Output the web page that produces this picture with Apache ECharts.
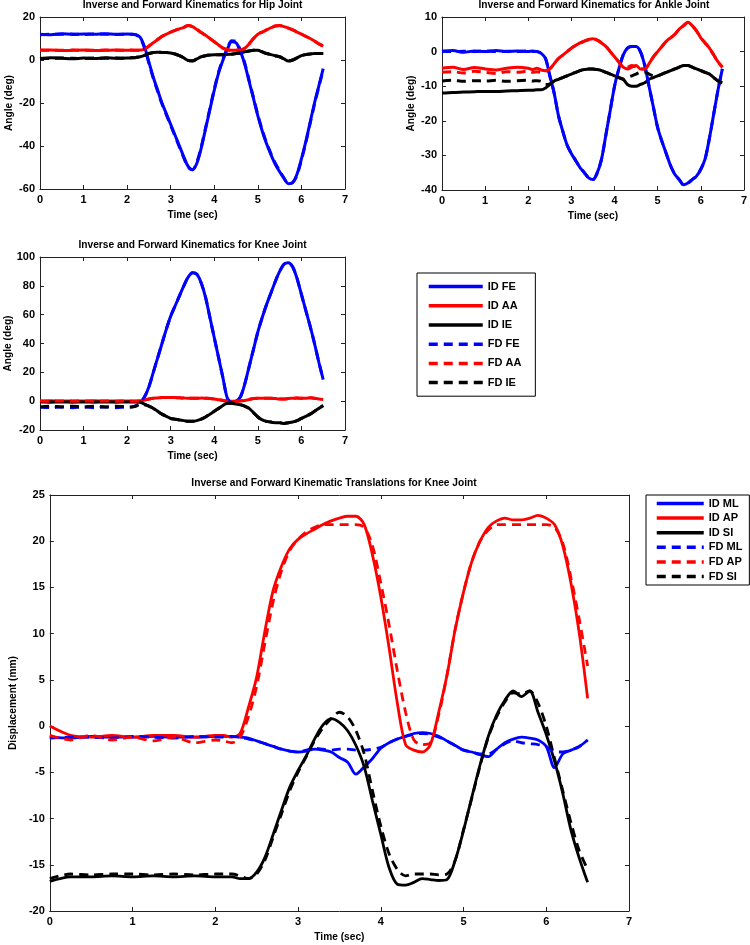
<!DOCTYPE html>
<html><head><meta charset="utf-8">
<script src="https://cdn.jsdelivr.net/npm/echarts@6/dist/echarts.min.js"></script>
<style>html,body{margin:0;padding:0;background:#fff}#c{width:750px;height:945px}</style>
</head><body><div id="c"></div>
<script>
// ---- time samples (sec) ----
const time = [0,0.25,0.5,0.75,1,1.25,1.5,1.75,2,
 2.1,2.2,2.3,2.4,2.5,2.6,2.7,2.8,2.9,3,
 3.1,3.2,3.3,3.4,3.5,3.6,3.7,3.8,3.9,4,
 4.1,4.2,4.3,4.4,4.5,4.6,4.7,4.8,4.9,5,
 5.1,5.2,5.3,5.4,5.5,5.6,5.7,5.8,5.9,6,
 6.1,6.2,6.3,6.4,6.5];

// ---- Hip joint (deg) ----
const hipIdFE = [12,11.8,12.2,11.9,12.1,12,12.2,11.9,12.1,
 12,11.8,10.5,6,-1,-8,-14,-20,-25,-30,
 -35,-40,-45,-49.5,-51,-48,-41,-32,-23,-14,
 -6,0,5,8.5,8,4,-2,-10,-18,-26,
 -33,-39,-44,-48.5,-52,-55,-57.5,-57,-53,-46,
 -38,-29,-20,-12,-4];
const hipIdAA = [4.5,4.6,4.4,4.5,4.6,4.4,4.5,4.6,4.5,
 4.5,4.5,4.6,5,6.5,8,9.5,11,12,13,
 13.8,14.5,15.2,16,15.5,14.2,12.8,11.5,10,8.5,
 7,5.5,4.8,4.5,4.5,4.6,5.5,7.5,10,12,
 13,14,15,15.8,16,15.5,14.8,14,13,12,
 11,10,8.8,7.5,6.5];
const hipIdIE = [0.5,1,0.8,0.6,0.9,0.7,1,0.8,0.9,
 1,1.2,1.5,2.2,3,3.5,3.6,3.5,3.5,3.3,
 2.8,2,1,-0.2,-0.5,0.5,1.5,2,2.3,2.5,
 2.5,2.5,2.6,2.7,3,3.3,3.8,4.2,4.5,4.5,
 3.8,3,2.5,2,1.5,0.5,-0.5,0,1,2,
 2.5,2.8,3,3,3];
const hipFdFE = [11.8,12,12,12.1,11.9,12.1,12,12,12,
 12,11.7,10.2,5.5,-1.5,-8.5,-14.5,-20.5,-25.5,-30.5,
 -35.5,-40.5,-45.5,-50,-51,-47.5,-40.5,-31.5,-22.5,-13.5,
 -5.5,0.5,5.5,9,8.5,4.5,-1.5,-9.5,-17.5,-25.5,
 -32.5,-38.5,-43.5,-48,-51.5,-55,-57.5,-57,-53.5,-46.5,
 -38.5,-29.5,-20.5,-12.5,-4.5];
const hipFdAA = [4.6,4.5,4.5,4.6,4.5,4.5,4.6,4.5,4.6,
 4.6,4.5,4.6,5,6.5,8,9.5,11,12,13,
 13.8,14.5,15.2,16,15.5,14.2,12.8,11.5,10,8.5,
 7,5.5,4.8,4.6,4.6,4.7,5.5,7.5,10,12,
 13,14,15,15.8,16,15.5,14.8,14,13,12,
 11,10,8.8,7.5,6.5];
const hipFdIE = [0.8,0.7,0.9,0.8,0.7,0.9,0.8,0.9,0.8,
 1,1.2,1.5,2.2,3,3.5,3.6,3.5,3.5,3.3,
 2.8,2,1,-0.2,-0.4,0.5,1.5,2,2.3,2.5,
 2.5,2.5,2.6,2.7,3,3.3,3.8,4.2,4.5,4.5,
 3.8,3,2.5,2,1.5,0.5,-0.4,0,1,2,
 2.5,2.8,3,3,3];

// ---- Ankle joint (deg) ----
const ankIdFE = [0,0.3,-0.2,0.2,0,0.3,0,0.2,0,
 0.2,0,-0.5,-2,-7,-12,-18.5,-23,-27,-29.5,
 -31.5,-33.5,-35,-36.5,-37,-35,-31,-24,-17,-10,
 -5,-1,1,1.5,1.5,0,-4,-10,-16,-22,
 -26,-29.5,-33,-35.5,-37,-38.5,-38,-37,-36,-34,
 -31,-25,-18,-11,-5];
const ankIdAA = [-4.8,-4.5,-5.2,-4.6,-5,-5.3,-4.8,-4.5,-4.8,
 -5.2,-4.8,-5.3,-5.5,-5,-3.5,-2,-1,0,1,
 1.8,2.5,3,3.5,3.7,3.3,2.5,1.5,0,-1.5,
 -3,-4.5,-5,-4.5,-4,-5,-5,-3.5,-1.5,0,
 1.5,3,4,5,6.5,7.5,8.5,7.5,6,4,
 2.5,1,-1,-3,-4.5];
const ankIdIE = [-12,-11.8,-11.7,-11.6,-11.5,-11.5,-11.4,-11.3,-11.2,
 -11.2,-11,-11,-10.5,-9.5,-8.5,-8,-7.5,-7,-6.5,
 -6,-5.5,-5.2,-5,-5,-5.2,-5.5,-6,-6.5,-7,
 -7.5,-8,-9.5,-10,-10,-9.5,-9,-8,-7.5,-7,
 -6.5,-6,-5.5,-5,-4.5,-4,-4,-4.5,-5,-5.5,
 -6,-6.5,-7.5,-8.5,-9];
const ankFdFE = [0.2,0,0.1,0,0.2,0,0.1,0,0.2,
 0,0,-0.5,-2,-7,-12,-18.5,-23,-27,-29.5,
 -31.5,-33.5,-35,-36.5,-37,-35,-31,-24,-17,-10,
 -5,-1,1,1.5,1.5,0,-4,-10,-16,-22,
 -26,-29.5,-33,-35.5,-37,-38.5,-38,-37,-36,-34,
 -31,-25,-18,-11,-5];
const ankFdAA = [-6,-5.8,-6.2,-5.7,-6,-6.3,-5.8,-6,-5.6,
 -6,-5.8,-6,-5.8,-5,-3.5,-2,-1,0,1,
 1.8,2.5,3,3.5,3.7,3.3,2.5,1.5,0,-1.5,
 -3,-4.5,-4.5,-4,-4.5,-5,-5,-3.5,-1.5,0,
 1.5,3,4,5,6.5,7.5,8.5,7.5,6,4,
 2.5,1,-1,-3,-4.5];
const ankFdIE = [-8.5,-8.3,-8.6,-8.4,-8.5,-8.3,-8.6,-8.4,-8.3,
 -8.5,-8.4,-8.6,-9.5,-9.3,-8.5,-8,-7.5,-7,-6.5,
 -6,-5.5,-5.2,-5,-5,-5.2,-5.5,-6,-6.5,-7,
 -7.5,-8,-7.5,-7,-6.5,-6,-6,-6.5,-7,-7,
 -6.5,-6,-5.5,-5,-4.5,-4,-4,-4.5,-5,-5.5,
 -6,-6.5,-7.5,-8.5,-9];

// ---- Knee joint (deg) ----
const kneeIdFE = [0,-0.5,0,-0.5,0,-0.5,0,-0.5,0,
 0,0,-0.5,3,10,20,30,40,50,59,
 66,73,80,86,89,88,82,72,58,44,
 30,16,2,-1,0,3,12,24,36,48,
 58,67,75,83,90,95,96,93,85,74,
 63,52,40,27,15];
const kneeIdAA = [0,0.3,0,0.2,0,0.3,0,0.2,0,
 0,0,0.3,0.8,1.5,2,2.2,2.5,2.5,2.6,
 2.5,2.3,2.2,2,2,2,2.2,2,1.8,1.5,
 1,0.5,0,0,0,0.2,0.5,1.2,1.8,2,
 2,2,2,1.8,1.5,1.5,1.8,2,2.2,2,
 2,2.3,2,1.5,1.2];
const kneeIdIE = [-0.5,-0.5,-0.5,-0.5,-0.5,-0.5,-0.5,-0.5,-0.5,
 -0.5,-0.5,-0.8,-2,-3.5,-5,-7,-9,-10.5,-12,
 -12.5,-13,-13.5,-14,-14,-13.5,-12.5,-11,-9,-7,
 -5,-3,-1.5,-1.5,-2,-2.5,-3.5,-5,-8,-11,
 -13,-14,-14.5,-15,-15,-15.5,-15,-14.5,-13.5,-12,
 -10.5,-9,-7,-5,-3];
const kneeFdFE = [-4,-4.5,-4,-4.5,-4,-4.5,-4,-4.5,-4,
 -4,-3,-1,3,10,20,30,40,50,59,
 66,73,80,86,89,88,82,72,58,44,
 30,16,2,-1,0,3,12,24,36,48,
 58,67,75,83,90,95,96,93,85,74,
 63,52,40,27,15];
const kneeFdAA = [0.2,0,0.2,0,0.2,0,0.2,0,0.2,
 0,0,0.3,0.8,1.5,2,2.2,2.5,2.5,2.6,
 2.5,2.3,2.2,2,2,2,2.2,2,1.8,1.5,
 1,0.5,0,0,0,0.2,0.5,1.2,1.8,2,
 2,2,2,1.8,1.5,1.5,1.8,2,2.2,2,
 2,2.3,2,1.5,1.2];
const kneeFdIE = [-4,-3.5,-4,-3.5,-4,-3.5,-4,-3.5,-4,
 -4,-3.5,-2,-2.5,-3.5,-5,-7,-9,-10.5,-12,
 -12.5,-13,-13.5,-14,-14,-13.5,-12.5,-11,-9,-7,
 -5,-3,-1.5,-1.5,-2,-2.5,-3.5,-5,-8,-11,
 -13,-14,-14.5,-15,-15,-15.5,-15,-14.5,-13.5,-12,
 -10.5,-9,-7,-5,-3];

// ---- Knee translations (mm) ----
const trIdML = [-1.2,-1.3,-1.1,-1.2,-1.2,-1.1,-1.2,-1.2,-1.1,
 -1.1,-1.1,-1.2,-1.3,-1.6,-1.9,-2.2,-2.5,-2.7,-2.8,
 -2.7,-2.5,-2.6,-2.8,-3.4,-3.9,-5.2,-4.4,-3.5,-2.4,
 -1.8,-1.4,-1.1,-0.8,-0.7,-0.8,-1.1,-1.6,-2.1,-2.6,
 -2.8,-3.1,-3.3,-2.5,-1.8,-1.4,-1.2,-1.3,-1.5,-2.2,
 -4.5,-3,-2.6,-2.2,-1.5];
const trIdAP = [0,-1,-1.2,-1,-1.2,-1,-1,-1.2,-1,
 -1,-1.2,-0.8,2,5.3,10.3,14.7,17.3,19.2,20.2,
 20.8,21.3,21.8,22.2,22.5,22.7,22.7,21.8,18.5,14,
 8.5,2.5,-2,-2.6,-2.8,-2,1.5,5.5,10.5,14.5,
 17.8,20,21.5,22.2,22.5,22.3,22.3,22.5,22.8,22.5,
 21.8,19.5,15.4,10,3];
const trIdSI = [-16.8,-16.3,-16.3,-16.2,-16.3,-16.2,-16.3,-16.2,-16.3,
 -16.3,-16.3,-16.5,-16.5,-15.8,-14.2,-11.7,-9.1,-6.6,-4.8,
 -3.2,-1.4,0.1,0.8,0.4,-0.5,-2.1,-4.4,-8.1,-11.7,
 -15.3,-17.1,-17.2,-16.9,-16.5,-16.6,-16.7,-16.6,-14.5,-11.3,
 -7.7,-4.2,-1.1,1.2,2.8,3.8,3.2,3.8,1.5,-0.9,
 -3.8,-7.3,-11.3,-14.3,-16.9];
const trFdML = [-1.3,-1.2,-1.2,-1.3,-1.1,-1.2,-1.3,-1.1,-1.2,
 -1.2,-1.1,-1.2,-1.4,-1.6,-1.9,-2.2,-2.5,-2.7,-2.8,
 -2.6,-2.4,-2.5,-2.6,-2.5,-2.5,-2.6,-2.6,-2.5,-2.3,
 -1.8,-1.4,-1.1,-0.9,-0.8,-0.9,-1.2,-1.6,-2.1,-2.6,
 -2.8,-3,-3,-2.5,-1.9,-1.6,-1.8,-1.9,-2,-2.2,
 -2.8,-2.8,-2.6,-2.2,-1.5];
const trFdAP = [-1,-1.5,-1,-1.5,-1.2,-1.6,-1.2,-1.8,-1.5,
 -1.6,-1.8,-1.2,1,4.3,9,13.5,16.8,19,20.2,
 21,21.5,21.8,21.8,21.8,21.8,21.8,21.5,19.5,15.5,
 11,6,1.5,-1.5,-2,-1.8,1.2,5.5,10.5,14.5,
 17.8,20,21.2,21.8,21.8,21.8,21.8,21.8,21.8,21.8,
 21.5,19.8,16,11.5,6.5];
const trFdSI = [-16.5,-16,-16.1,-16,-16,-16.1,-16,-16.1,-16,
 -16,-16,-16.2,-16.5,-16,-14.5,-12,-9.5,-7,-5,
 -3.3,-1.6,-0.2,0.8,1.5,1,-0.5,-3,-7,-10.8,
 -13.8,-15.5,-16.2,-16,-16,-16,-16.1,-16,-14.5,-11.2,
 -7.8,-4.3,-1.2,1,2.6,3.6,3.5,3.8,2.5,0,
 -3.5,-7,-10.5,-13.5,-15.5];

// ---- labels ----
const titles = ['Inverse and Forward Kinematics for Hip Joint','Inverse and Forward Kinematics for Ankle Joint','Inverse and Forward Kinematics for Knee Joint','Inverse and Forward Kinematic Translations for Knee Joint'];
const yNames = ['Angle (deg)','Angle (deg)','Angle (deg)','Displacement (mm)'];
const xName = 'Time (sec)';
const angleLegend = ['ID FE','ID AA','ID IE','FD FE','FD AA','FD IE'];
const transLegend = ['ID ML','ID AP','ID SI','FD ML','FD AP','FD SI'];
const yRanges = [[-60,20,20],[-40,10,10],[-20,100,20],[-20,25,5]];
const xRange = [0,7,1];

const FONT = '"Liberation Sans", Arial, Helvetica, sans-serif';
const grids = [
  {left:40, top:17, width:305, height:172},
  {left:442, top:17, width:304, height:173},
  {left:40, top:257, width:305, height:173},
  {left:39, top:495, width:590, height:416}
];
const AX = '#222';
const xAxis = [], yAxis = [];
grids.forEach((g, i) => {
  const base = {type:'value', gridIndex:i, splitLine:{show:false},
    axisLine:{onZero:false, lineStyle:{color:AX, width:1}},
    axisTick:{inside:true, length:4, lineStyle:{color:AX}}};
  xAxis.push(Object.assign({}, base, {min:xRange[0], max:xRange[1], interval:xRange[2], position:'bottom',
    axisLabel:{color:'#000', fontSize:11, fontWeight:'bold', fontFamily:FONT, margin:5},
    name:xName, nameLocation:'middle', nameGap:21,
    nameTextStyle:{color:'#000', fontSize:10.2, fontWeight:'bold', fontFamily:FONT}}));
  xAxis.push(Object.assign({}, base, {min:xRange[0], max:xRange[1], interval:xRange[2], position:'top', axisLabel:{show:false}}));
  const r = yRanges[i];
  yAxis.push(Object.assign({}, base, {min:r[0], max:r[1], interval:r[2], position:'left',
    axisLabel:{color:'#000', fontSize:11, fontWeight:'bold', fontFamily:FONT, margin:5},
    name:yNames[i], nameLocation:'middle', nameGap: i===3 ? 27 : 26, nameRotate:90,
    nameTextStyle:{color:'#000', fontSize:10.2, fontWeight:'bold', fontFamily:FONT}}));
  yAxis.push(Object.assign({}, base, {min:r[0], max:r[1], interval:r[2], position:'right', axisLabel:{show:false}}));
});

const BLUE = '#0000ff', RED = '#ff0000', BLACK = '#000000';
function mk(name, vals, color, dashed, gi, width) {
  return {type:'line', name, xAxisIndex:2*gi, yAxisIndex:2*gi,
    data: time.map((t, k) => [t, vals[k]]),
    symbol:'none', showSymbol:false, smooth:0.3, animation:false,
    lineStyle:{color, width, type: dashed ? [9,6] : 'solid'},
    itemStyle:{color}};
}
const angleSets = [
  [hipIdFE,hipIdAA,hipIdIE,hipFdFE,hipFdAA,hipFdIE],
  [ankIdFE,ankIdAA,ankIdIE,ankFdFE,ankFdAA,ankFdIE],
  [kneeIdFE,kneeIdAA,kneeIdIE,kneeFdFE,kneeFdAA,kneeFdIE]
];
const colors = [BLUE, RED, BLACK, BLUE, RED, BLACK];
const series = [];
angleSets.forEach((set, gi) => {
  set.forEach((vals, j) => series.push(mk(angleLegend[j], vals, colors[j], j >= 3, gi, 3)));
});
[trIdML,trIdAP,trIdSI,trFdML,trFdAP,trFdSI].forEach((vals, j) =>
  series.push(mk(transLegend[j], vals, colors[j], j >= 3, 3, 2.8)));

const titlePos = [[192.5,5],[594,5],[192.5,245],[334,483]];
const graphic = titles.map((t, i) => ({type:'text', x:titlePos[i][0], y:titlePos[i][1], silent:true,
  style:{text:t, align:'center', verticalAlign:'middle', fill:'#000', fontSize:10.2, fontWeight:'bold', fontFamily:FONT}}));

const option = {
  animation:false,
  backgroundColor:'#fff',
  grid: grids.map(g => Object.assign({containLabel:false}, g)),
  xAxis, yAxis, series, graphic,
  legend: [
    {data:angleLegend, orient:'vertical', left:417, top:273, itemWidth:54, itemHeight:14, itemGap:8,
     padding:[8,14,8,10], borderColor:'#000', borderWidth:1, backgroundColor:'#fff',
     itemStyle:{opacity:0}, lineStyle:{width:3.5},
     textStyle:{color:'#000', fontSize:11, fontWeight:'bold', fontFamily:FONT}, selectedMode:false},
    {data:transLegend, orient:'vertical', left:646, top:495, itemWidth:47, itemHeight:12, itemGap:2.6,
     padding:[2.5,7,2.5,9], borderColor:'#000', borderWidth:1, backgroundColor:'#fff',
     itemStyle:{opacity:0}, lineStyle:{width:3.5},
     textStyle:{color:'#000', fontSize:11, fontWeight:'bold', fontFamily:FONT, lineHeight:12}, selectedMode:false}
  ]
};
const chart = echarts.init(document.getElementById('c'), null, {renderer:'canvas'});
chart.setOption(option);
</script></body></html>
